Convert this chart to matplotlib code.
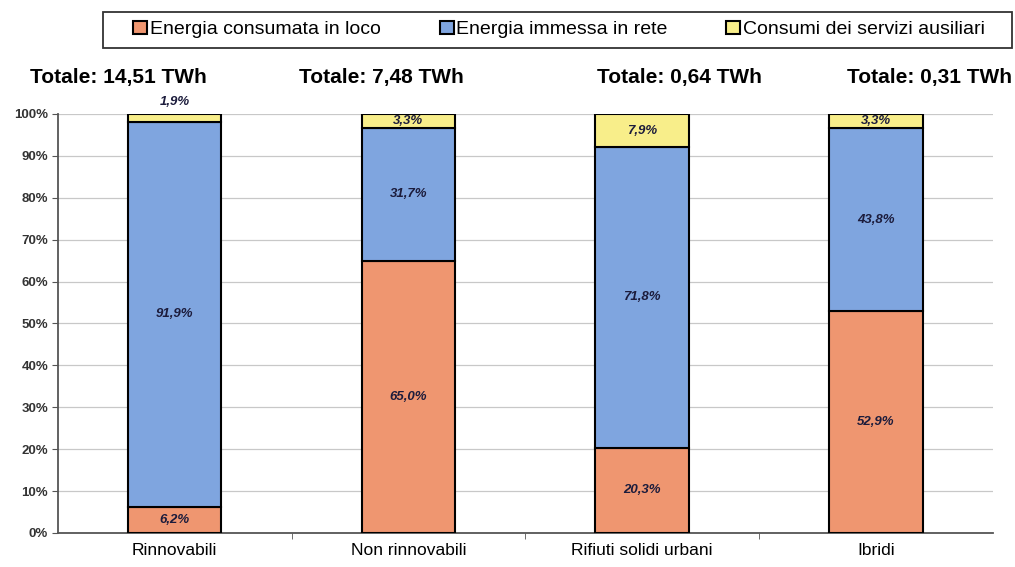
import matplotlib.pyplot as plt
from matplotlib.patches import Rectangle
import numpy as np

plt.rcParams['font.family'] = ['Liberation Sans', 'DejaVu Sans']

categories = ["Rinnovabili", "Non rinnovabili", "Rifiuti solidi urbani", "Ibridi"]
totals = ["Totale: 14,51 TWh", "Totale: 7,48 TWh", "Totale: 0,64 TWh", "Totale: 0,31 TWh"]
series_names = ["Energia consumata in loco", "Energia immessa in rete", "Consumi dei servizi ausiliari"]
consumata = [6.2, 65.0, 20.3, 52.9]
immessa = [91.9, 31.7, 71.8, 43.8]
ausiliari = [1.9, 3.3, 7.9, 3.3]

colors = ["#EF9670", "#7FA5DF", "#F8EE8A"]
label_color = "#1c1c3c"

fig = plt.figure(figsize=(10.15, 5.67), dpi=100)
ax = fig.add_axes([0.057, 0.06, 0.921, 0.739])

x = np.arange(len(categories))
w = 0.4
b1 = ax.bar(x, consumata, w, color=colors[0], edgecolor="black", linewidth=1.5, label=series_names[0], zorder=3)
b2 = ax.bar(x, immessa, w, bottom=consumata, color=colors[1], edgecolor="black", linewidth=1.5, label=series_names[1], zorder=3)
bottoms = np.array(consumata) + np.array(immessa)
b3 = ax.bar(x, ausiliari, w, bottom=bottoms, color=colors[2], edgecolor="black", linewidth=1.5, label=series_names[2], zorder=3)

def fmt(v):
    return f"{v:.1f}%".replace(".", ",")

lab = dict(ha="center", va="center", fontsize=9.5, fontweight="bold", style="italic",
           color=label_color, zorder=4, clip_on=False)
for i in range(len(categories)):
    ax.text(x[i], consumata[i] / 2, fmt(consumata[i]), **lab)
    ax.text(x[i], consumata[i] + immessa[i] / 2, fmt(immessa[i]), **lab)
    if ausiliari[i] < 3:
        ypos = bottoms[i] + ausiliari[i] + 2.9
    else:
        ypos = bottoms[i] + ausiliari[i] / 2
    ax.text(x[i], ypos, fmt(ausiliari[i]), **lab)

# totals above each column
tot_x = [-0.24, 0.885, 2.16, 3.23]
for tx, t in zip(tot_x, totals):
    ax.text(tx, 108.8, t, ha="center", va="center", fontsize=15, fontweight="bold", clip_on=False)

ax.set_xlim(-0.5, 3.5)
ax.set_ylim(0, 100)
ax.set_yticks(np.arange(0, 101, 10))
ax.set_yticklabels([f"{v}%" for v in range(0, 101, 10)], fontsize=9.5, fontweight="bold", color="#333333")
ax.set_xticks(x)
ax.set_xticklabels(categories, fontsize=12.5)
ax.set_xticks([0.5, 1.5, 2.5], minor=True)
ax.tick_params(axis="x", which="major", length=0, pad=7)
ax.tick_params(axis="x", which="minor", length=4, color="#555555")
ax.tick_params(axis="y", length=4, color="#555555", pad=3)
ax.grid(axis="y", color="#c8c8c8", linewidth=0.9, zorder=0)
for s in ["top", "right"]:
    ax.spines[s].set_visible(False)
for s in ["left", "bottom"]:
    ax.spines[s].set_color("#555555")
    ax.spines[s].set_linewidth(1.3)

# legend (frame drawn separately)
leg = fig.legend(handles=[b1, b2, b3], labels=series_names, loc="center",
                 bbox_to_anchor=(0.551, 0.948), ncol=3, fontsize=14, frameon=False,
                 handlelength=0.72, handleheight=0.72, handletextpad=0.15,
                 columnspacing=3.0, borderpad=0.2)
for h in leg.legend_handles:
    h.set_linewidth(1.5)
fig.patches.append(Rectangle((103 / 1015, 1 - 48 / 567), 909 / 1015, 36 / 567,
                             transform=fig.transFigure, fill=False,
                             edgecolor="#333333", linewidth=1.3))

fig.savefig("out.png", dpi=100)
